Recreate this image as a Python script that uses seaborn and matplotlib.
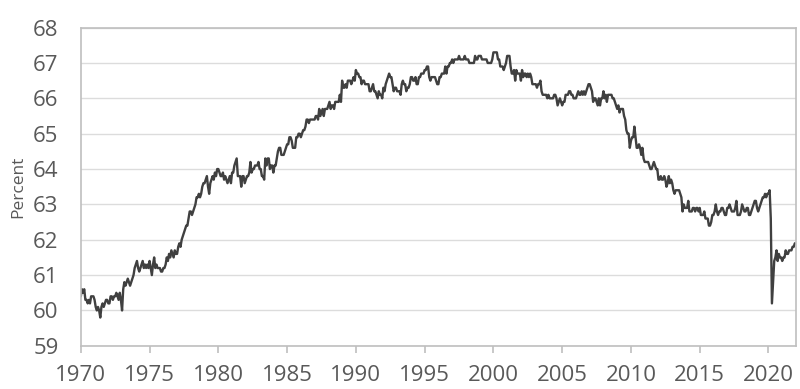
import numpy as np
import pandas as pd
import matplotlib
matplotlib.use("Agg")
import matplotlib.pyplot as plt
import seaborn as sns

# ==============================
# DATA: labour force participation rate, monthly (percent)
# ==============================

years = list(range(1970, 2022))

rate_1970s = [
    [60.4, 60.6, 60.5, 60.6, 60.3, 60.3, 60.2, 60.3, 60.2, 60.4, 60.4, 60.4],
    [60.3, 60.1, 60.0, 60.1, 60.0, 59.8, 60.1, 60.2, 60.1, 60.2, 60.3, 60.3],
    [60.2, 60.2, 60.4, 60.4, 60.3, 60.4, 60.4, 60.5, 60.4, 60.3, 60.5, 60.3],
    [60.0, 60.6, 60.8, 60.7, 60.8, 60.9, 60.8, 60.7, 60.8, 60.9, 61.0, 61.2],
    [61.3, 61.4, 61.2, 61.1, 61.2, 61.3, 61.4, 61.2, 61.3, 61.2, 61.3, 61.2],
    [61.4, 61.2, 61.0, 61.3, 61.5, 61.2, 61.3, 61.2, 61.2, 61.2, 61.1, 61.1],
    [61.2, 61.2, 61.3, 61.5, 61.4, 61.6, 61.5, 61.7, 61.6, 61.5, 61.7, 61.6],
    [61.6, 61.8, 61.9, 61.8, 62.0, 62.1, 62.2, 62.3, 62.4, 62.4, 62.6, 62.8],
    [62.8, 62.7, 62.8, 62.9, 63.0, 63.2, 63.2, 63.3, 63.2, 63.3, 63.5, 63.6],
    [63.6, 63.7, 63.8, 63.5, 63.3, 63.6, 63.7, 63.8, 63.7, 63.9, 63.8, 64.0],
]

rate_1980s = [
    [64.0, 63.9, 63.8, 63.8, 63.9, 63.7, 63.8, 63.7, 63.6, 63.7, 63.8, 63.6],
    [63.9, 63.9, 64.1, 64.2, 64.3, 63.8, 63.8, 63.8, 63.5, 63.8, 63.8, 63.6],
    [63.7, 63.8, 63.8, 63.9, 64.2, 63.9, 64.0, 64.0, 64.1, 64.1, 64.1, 64.2],
    [64.0, 64.0, 63.8, 63.8, 63.7, 64.3, 64.1, 64.3, 64.3, 64.0, 64.1, 64.1],
    [63.9, 64.1, 64.1, 64.3, 64.5, 64.6, 64.6, 64.4, 64.4, 64.4, 64.5, 64.6],
    [64.7, 64.7, 64.9, 64.9, 64.8, 64.6, 64.6, 64.6, 64.9, 64.9, 65.0, 65.0],
    [64.9, 65.0, 65.1, 65.1, 65.2, 65.4, 65.4, 65.3, 65.4, 65.4, 65.4, 65.4],
    [65.4, 65.5, 65.5, 65.4, 65.7, 65.5, 65.6, 65.7, 65.5, 65.7, 65.7, 65.7],
    [65.8, 65.9, 65.7, 65.8, 65.8, 65.7, 65.9, 65.9, 65.9, 65.9, 66.1, 65.9],
    [66.5, 66.3, 66.3, 66.4, 66.3, 66.5, 66.5, 66.5, 66.4, 66.5, 66.6, 66.5],
]

rate_1990s = [
    [66.8, 66.7, 66.7, 66.6, 66.6, 66.4, 66.5, 66.5, 66.4, 66.4, 66.4, 66.4],
    [66.2, 66.2, 66.3, 66.4, 66.2, 66.2, 66.1, 66.0, 66.2, 66.1, 66.1, 66.0],
    [66.3, 66.2, 66.4, 66.5, 66.6, 66.7, 66.6, 66.6, 66.4, 66.2, 66.3, 66.3],
    [66.2, 66.2, 66.2, 66.1, 66.4, 66.5, 66.4, 66.4, 66.2, 66.3, 66.3, 66.4],
    [66.6, 66.6, 66.5, 66.5, 66.6, 66.4, 66.4, 66.6, 66.6, 66.7, 66.7, 66.7],
    [66.8, 66.8, 66.9, 66.9, 66.6, 66.5, 66.6, 66.6, 66.6, 66.6, 66.5, 66.4],
    [66.4, 66.6, 66.6, 66.7, 66.7, 66.7, 66.9, 66.7, 66.9, 66.9, 67.0, 67.0],
    [67.1, 67.0, 67.1, 67.1, 67.1, 67.1, 67.2, 67.1, 67.1, 67.1, 67.1, 67.2],
    [67.1, 67.1, 67.1, 67.0, 67.0, 67.0, 67.0, 67.0, 67.2, 67.1, 67.1, 67.2],
    [67.2, 67.2, 67.1, 67.1, 67.1, 67.1, 67.1, 67.0, 67.0, 67.0, 67.0, 67.1],
]

rate_2000s = [
    [67.3, 67.3, 67.3, 67.3, 67.1, 67.1, 66.9, 66.9, 66.9, 66.8, 66.9, 67.0],
    [67.2, 67.2, 67.2, 66.9, 66.7, 66.7, 66.8, 66.5, 66.8, 66.7, 66.7, 66.7],
    [66.5, 66.8, 66.6, 66.7, 66.7, 66.6, 66.7, 66.6, 66.7, 66.6, 66.4, 66.4],
    [66.4, 66.4, 66.3, 66.4, 66.4, 66.5, 66.2, 66.1, 66.1, 66.1, 66.1, 66.0],
    [66.1, 66.0, 66.0, 66.0, 66.0, 66.1, 66.1, 66.0, 65.8, 65.9, 66.0, 65.9],
    [65.8, 65.9, 65.9, 66.1, 66.1, 66.1, 66.2, 66.2, 66.1, 66.1, 66.0, 66.0],
    [66.0, 66.1, 66.2, 66.1, 66.1, 66.2, 66.1, 66.2, 66.1, 66.2, 66.3, 66.4],
    [66.4, 66.3, 66.2, 65.9, 66.0, 66.0, 65.9, 65.8, 66.0, 65.8, 66.0, 66.0],
    [66.2, 66.0, 66.1, 65.9, 66.1, 66.1, 66.1, 66.1, 66.0, 66.0, 65.9, 65.8],
    [65.7, 65.8, 65.6, 65.7, 65.7, 65.7, 65.5, 65.4, 65.1, 65.0, 65.0, 64.6],
]

rate_2010s = [
    [64.8, 64.9, 64.9, 65.2, 64.9, 64.6, 64.6, 64.7, 64.6, 64.4, 64.6, 64.3],
    [64.2, 64.2, 64.2, 64.2, 64.1, 64.0, 64.0, 64.1, 64.2, 64.1, 64.0, 64.0],
    [63.7, 63.7, 63.8, 63.7, 63.7, 63.8, 63.7, 63.5, 63.6, 63.8, 63.6, 63.7],
    [63.6, 63.4, 63.3, 63.4, 63.4, 63.4, 63.4, 63.3, 63.2, 62.8, 63.0, 62.9],
    [62.9, 62.9, 63.1, 62.8, 62.8, 62.8, 62.9, 62.9, 62.8, 62.9, 62.9, 62.8],
    [62.9, 62.7, 62.7, 62.7, 62.8, 62.6, 62.6, 62.6, 62.4, 62.4, 62.5, 62.7],
    [62.7, 62.8, 63.0, 62.8, 62.7, 62.8, 62.8, 62.9, 62.9, 62.8, 62.7, 62.7],
    [62.9, 62.9, 63.0, 62.9, 62.8, 62.8, 62.8, 62.9, 63.1, 62.7, 62.7, 62.7],
    [62.8, 63.0, 62.9, 62.8, 62.8, 62.9, 62.9, 62.7, 62.7, 62.8, 62.9, 63.0],
    [63.1, 63.1, 62.9, 62.8, 62.9, 63.0, 63.1, 63.2, 63.2, 63.3, 63.2, 63.3],
]

rate_2020s = [
    [63.3, 63.4, 62.6, 60.2, 60.8, 61.4, 61.5, 61.7, 61.4, 61.6, 61.5, 61.5],
    [61.4, 61.5, 61.5, 61.7, 61.6, 61.6, 61.7, 61.7, 61.7, 61.8, 61.8, 61.9],
]

y_ticks = list(range(59, 69))
x_ticks = list(range(1970, 2021, 5))

# ==============================
# BUILD TABLE
# ==============================

all_rows = rate_1970s + rate_1980s + rate_1990s + rate_2000s + rate_2010s + rate_2020s

records = []
for year, row in zip(years, all_rows):
    for month, value in enumerate(row):
        records.append({"date": year + month / 12, "rate": value})

df = pd.DataFrame(records)

# ==============================
# PLOT
# ==============================

sns.set_style("white")
plt.rcParams["font.family"] = ["Open Sans", "DejaVu Sans"]

text_grey = "#595959"
frame_grey = "#bfbfbf"

fig = plt.figure(figsize=(8, 3.89), dpi=100)
ax = fig.add_axes([0.101, 0.111, 0.894, 0.818])

sns.lineplot(data=df, x="date", y="rate", ax=ax,
             color="#404040", linewidth=1.7)

ax.set_xlim(1970, 2022)
ax.set_ylim(59, 68)
ax.set_xticks(x_ticks)
ax.set_yticks(y_ticks)

ax.yaxis.grid(True, color="#dcdcdc", linewidth=1)
ax.xaxis.grid(False)
ax.set_axisbelow(True)

for side in ["left", "right", "top", "bottom"]:
    ax.spines[side].set_visible(True)
    ax.spines[side].set_color(frame_grey)
    ax.spines[side].set_linewidth(1.2)

ax.tick_params(axis="y", length=0, pad=16, labelsize=16, labelcolor=text_grey)
ax.tick_params(axis="x", length=5, width=1.2, color=frame_grey, direction="out",
               pad=9, labelsize=16, labelcolor=text_grey, bottom=True)

ax.set_xlabel("")
ax.set_ylabel("")
fig.text(0.0225, 0.52, "Percent", rotation=90, ha="center", va="center",
         fontsize=12.5, color=text_grey)

fig.savefig("out.png", dpi=100)
